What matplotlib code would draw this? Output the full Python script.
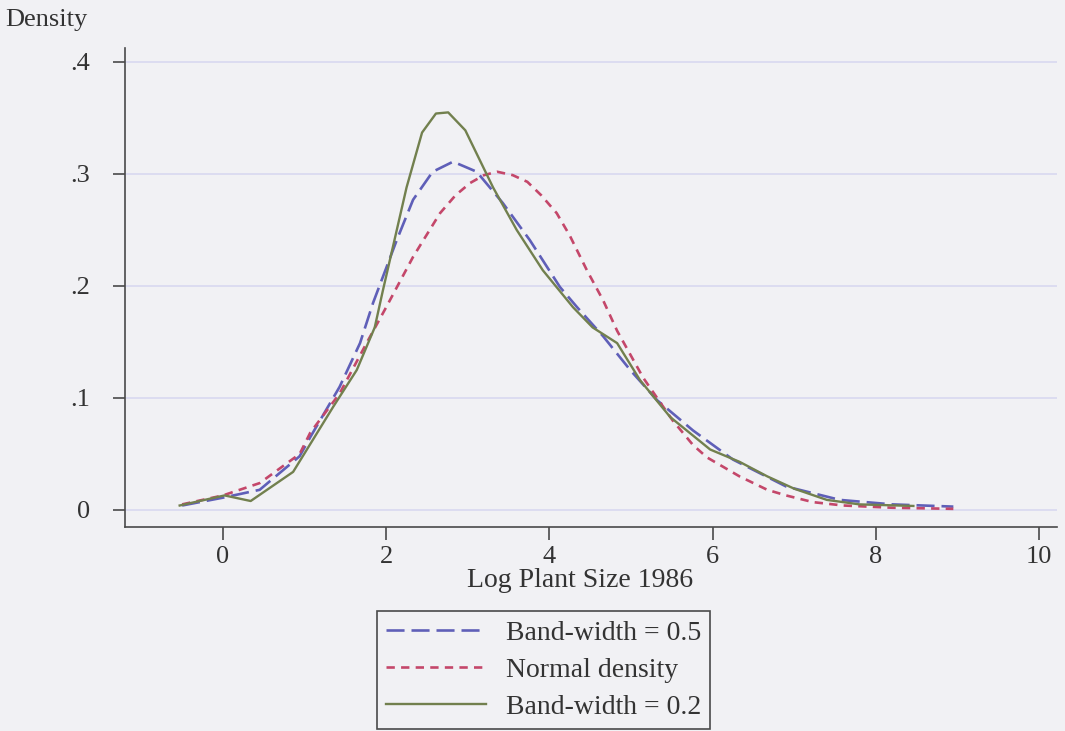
import matplotlib
matplotlib.use("Agg")
import matplotlib.pyplot as plt

# ---- data ----
x_bw05 = [-0.5, 0.0, 0.45, 0.94, 1.07, 1.43, 1.68, 1.84, 2.13, 2.33, 2.57, 2.82, 3.11, 3.43,
          3.76, 4.13, 4.34, 4.66, 4.99, 5.32, 5.76, 6.25, 6.9, 7.56, 8.2, 8.95]
y_bw05 = [0.004, 0.011, 0.018, 0.048, 0.065, 0.110, 0.149, 0.185, 0.241, 0.277, 0.302, 0.311,
          0.302, 0.274, 0.241, 0.199, 0.181, 0.155, 0.125, 0.098, 0.071, 0.045, 0.021, 0.009,
          0.005, 0.003]

x_norm = [-0.5, 0.0, 0.45, 0.94, 1.07, 1.43, 1.76, 2.0, 2.33, 2.66, 2.85, 3.03, 3.2, 3.36,
          3.55, 3.73, 3.9, 4.09, 4.25, 4.46, 4.66, 4.83, 5.15, 5.51, 5.76, 5.93, 6.33, 6.67,
          6.9, 7.23, 7.6, 8.2, 8.95]
y_norm = [0.005, 0.013, 0.024, 0.050, 0.069, 0.104, 0.149, 0.181, 0.226, 0.265, 0.281, 0.292,
          0.299, 0.302, 0.299, 0.293, 0.281, 0.265, 0.245, 0.214, 0.187, 0.160, 0.118, 0.080,
          0.058, 0.047, 0.030, 0.018, 0.013, 0.007, 0.004, 0.002, 0.001]

x_bw02 = [-0.53, 0.02, 0.34, 0.86, 1.35, 1.64, 1.86, 1.96, 2.25, 2.44, 2.61, 2.76, 2.97, 3.31,
          3.6, 3.92, 4.29, 4.53, 4.83, 5.11, 5.48, 5.97, 6.33, 6.67, 7.0, 7.4, 7.8, 8.46]
y_bw02 = [0.004, 0.013, 0.008, 0.034, 0.092, 0.125, 0.163, 0.196, 0.288, 0.337, 0.354, 0.355,
          0.339, 0.288, 0.250, 0.214, 0.181, 0.163, 0.149, 0.116, 0.083, 0.054, 0.043, 0.030,
          0.019, 0.009, 0.005, 0.0036]

labels = ["Band-width = 0.5", "Normal density", "Band-width = 0.2"]
xticks = [0, 2, 4, 6, 8, 10]
xticklabels = ["0", "2", "4", "6", "8", "10"]
yticks = [0, 0.1, 0.2, 0.3, 0.4]
yticklabels = ["0", ".1", ".2", ".3", ".4"]
xlabel = "Log Plant Size 1986"
ylabel = "Density"

# ---- styling ----
plt.rcParams['font.family'] = ['Liberation Serif', 'DejaVu Serif']
plt.rcParams['lines.scale_dashes'] = False
bg = '#f1f1f4'
axcol = '#4a4a4a'
W, H = 1065, 731
fig = plt.figure(figsize=(W / 100, H / 100), dpi=100, facecolor=bg)
ax = fig.add_axes([125 / W, 1 - 527 / H, (1057 - 125) / W, (527 - 48) / H])
ax.set_facecolor(bg)

for y in yticks:
    ax.axhline(y, color='#d8d8f0', lw=1.2, zorder=0)

l1, = ax.plot(x_bw05, y_bw05, color='#5f5fb8', lw=1.9, dashes=(13, 5), label=labels[0])
l2, = ax.plot(x_norm, y_norm, color='#c4476a', lw=1.9, dashes=(6, 4.5), label=labels[1])
l3, = ax.plot(x_bw02, y_bw02, color='#72804e', lw=1.7, label=labels[2])

ax.set_xlim(-1.2, 10.22)
ax.set_ylim(-0.0152, 0.4125)
for s in ['top', 'right']:
    ax.spines[s].set_visible(False)
for s in ['left', 'bottom']:
    ax.spines[s].set_color(axcol)
    ax.spines[s].set_linewidth(1.2)

ax.set_xticks(xticks)
ax.set_xticklabels(xticklabels)
ax.set_yticks(yticks)
ax.set_yticklabels(yticklabels)
ax.tick_params(axis='both', colors=axcol, labelcolor='#333333', labelsize=19, width=1.2, length=9)
ax.tick_params(axis='x', pad=5)
ax.tick_params(axis='y', pad=16)
ax.set_xlabel(xlabel, fontsize=20, color='#333333', labelpad=0)
ax.xaxis.label.set_position(((580 - 125) / (1057 - 125), 0))

fig.text(5 / W, 1 - 20 / H, ylabel, fontsize=19, color='#333333', va='center', ha='left')

leg = fig.legend(handles=[l1, l2, l3], loc='upper left',
                 bbox_to_anchor=(377 / W, 1 - 611 / H), fontsize=20,
                 frameon=True, fancybox=False, edgecolor=axcol, facecolor=bg,
                 framealpha=1, handlelength=3.6, handletextpad=0.7,
                 borderpad=0.33, labelspacing=0.42, borderaxespad=0)
leg.get_frame().set_linewidth(1.2)
for t in leg.get_texts():
    t.set_color('#333333')

fig.savefig('out.png', dpi=100, facecolor=bg)
